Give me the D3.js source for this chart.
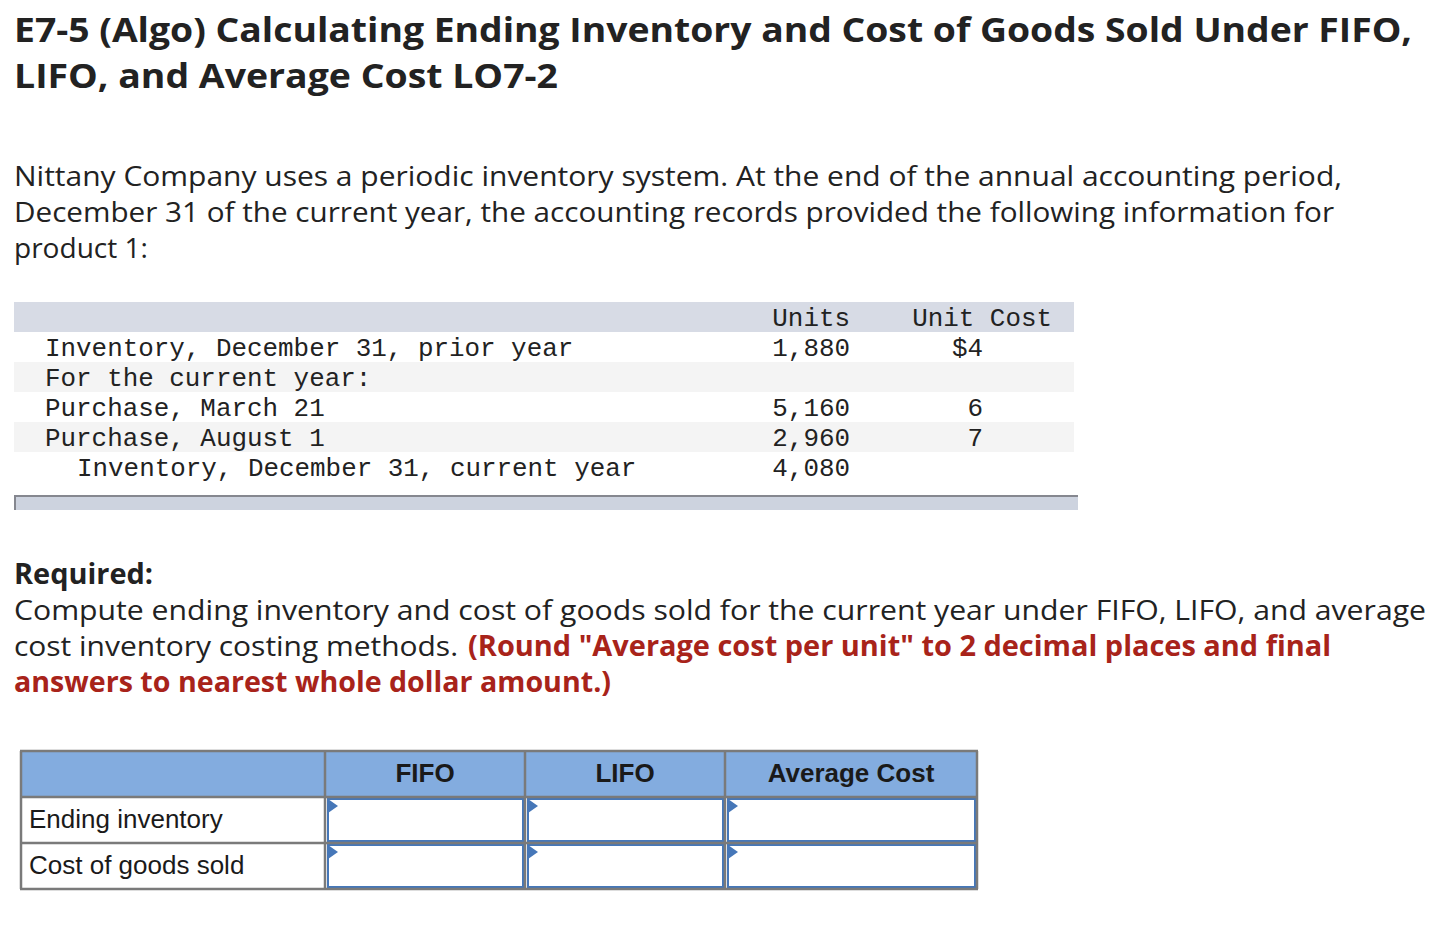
<!DOCTYPE html>
<html>
<head>
<meta charset="utf-8">
<script src="https://cdn.jsdelivr.net/npm/d3@7/dist/d3.min.js"></script>
<style>
  html, body { margin: 0; padding: 0; background: #fff; }
  svg { display: block; }
</style>
</head>
<body>
<div id="chart"></div>
<script>
// ---------- data ----------
const titleLines = [
  "E7-5 (Algo) Calculating Ending Inventory and Cost of Goods Sold Under FIFO,",
  "LIFO, and Average Cost LO7-2"
];
const introLines = [
  "Nittany Company uses a periodic inventory system. At the end of the annual accounting period,",
  "December 31 of the current year, the accounting records provided the following information for",
  "product 1:"
];
const tableHeaders = ["", "Units", "Unit Cost"];
const rowLabels = [
  "Inventory, December 31, prior year",
  "For the current year:",
  "Purchase, March 21",
  "Purchase, August 1",
  "Inventory, December 31, current year"
];
const rowIndent = [0, 0, 0, 0, 1];
const units = ["1,880", "", "5,160", "2,960", "4,080"];
const unitCosts = ["$4", "", "6", "7", ""];
const requiredTitle = "Required:";
const requiredLine1 = "Compute ending inventory and cost of goods sold for the current year under FIFO, LIFO, and average";
const requiredLine2a = "cost inventory costing methods.";
const requiredLine2b = "(Round \"Average cost per unit\" to 2 decimal places and final";
const requiredLine3 = "answers to nearest whole dollar amount.)";
const answerColumns = ["FIFO", "LIFO", "Average Cost"];
const answerRows = ["Ending inventory", "Cost of goods sold"];

// ---------- drawing ----------
const W = 1448, H = 938;
const svg = d3.select("#chart").append("svg").attr("width", W).attr("height", H);

const sans = "'Open Sans', Lato, 'Liberation Sans', sans-serif";
const mono = "'Liberation Mono', 'DejaVu Sans Mono', monospace";
const arial = "'Liberation Sans', Arial, sans-serif";
const textCol = "#222";

// Title
const titleWidths = [1398, 544];
svg.selectAll("text.title").data(titleLines).join("text")
  .attr("class", "title")
  .attr("x", 14)
  .attr("y", (d, i) => 42 + i * 46)
  .attr("font-family", sans)
  .attr("font-weight", 700)
  .attr("font-size", 34)
  .attr("fill", textCol)
  .attr("textLength", (d, i) => titleWidths[i])
  .attr("lengthAdjust", "spacingAndGlyphs")
  .text(d => d);

// Intro
const introWidths = [1328, 1320, 134];
svg.selectAll("text.intro").data(introLines).join("text")
  .attr("class", "intro")
  .attr("x", 14)
  .attr("y", (d, i) => 186 + i * 36)
  .attr("font-family", sans)
  .attr("font-size", 28)
  .attr("fill", textCol)
  .attr("textLength", (d, i) => introWidths[i])
  .attr("lengthAdjust", "spacingAndGlyphs")
  .text(d => d);

// Data table
const tX0 = 14, tX1 = 1074;
const headTop = 302, rowH = 30;
const rowY = d3.scaleBand().domain(d3.range(rowLabels.length))
  .range([headTop + rowH, headTop + rowH * (rowLabels.length + 1)]);

svg.append("rect").attr("x", tX0).attr("y", headTop).attr("width", tX1 - tX0).attr("height", rowH)
  .attr("fill", "#d7dbe5");
svg.selectAll("rect.row").data(rowLabels).join("rect")
  .attr("class", "row")
  .attr("x", tX0).attr("y", (d, i) => rowY(i))
  .attr("width", tX1 - tX0).attr("height", rowY.bandwidth())
  .attr("fill", (d, i) => i % 2 === 1 ? "#f4f4f4" : "#ffffff");

const monoSize = 25.9;
const colRight = { units: 850, cost: 983 };
// header
svg.append("text").attr("x", colRight.units).attr("y", headTop + 24)
  .attr("text-anchor", "end").attr("font-family", mono).attr("font-size", monoSize)
  .attr("fill", textCol).text(tableHeaders[1]);
svg.append("text").attr("x", 1052).attr("y", headTop + 24)
  .attr("text-anchor", "end").attr("font-family", mono).attr("font-size", monoSize)
  .attr("fill", textCol).text(tableHeaders[2]);

svg.selectAll("text.rl").data(rowLabels).join("text")
  .attr("class", "rl")
  .attr("x", (d, i) => 45 + rowIndent[i] * 32)
  .attr("y", (d, i) => rowY(i) + 24)
  .attr("font-family", mono).attr("font-size", monoSize).attr("fill", textCol)
  .attr("xml:space", "preserve")
  .text(d => d);
svg.selectAll("text.un").data(units).join("text")
  .attr("class", "un")
  .attr("x", colRight.units)
  .attr("y", (d, i) => rowY(i) + 24)
  .attr("text-anchor", "end")
  .attr("font-family", mono).attr("font-size", monoSize).attr("fill", textCol)
  .text(d => d);
svg.selectAll("text.uc").data(unitCosts).join("text")
  .attr("class", "uc")
  .attr("x", colRight.cost)
  .attr("y", (d, i) => rowY(i) + 24)
  .attr("text-anchor", "end")
  .attr("font-family", mono).attr("font-size", monoSize).attr("fill", textCol)
  .text(d => d);

// bottom band
svg.append("rect").attr("x", 14).attr("y", 496).attr("width", 1064).attr("height", 14).attr("fill", "#cdd3df");
svg.append("rect").attr("x", 14).attr("y", 495).attr("width", 1064).attr("height", 2).attr("fill", "#85878f");
svg.append("rect").attr("x", 14).attr("y", 495).attr("width", 2).attr("height", 15).attr("fill", "#85878f");

// Required
svg.append("text").attr("x", 14).attr("y", 584)
  .attr("font-family", sans).attr("font-weight", 700).attr("font-size", 28).attr("fill", textCol)
  .attr("textLength", 139).attr("lengthAdjust", "spacingAndGlyphs")
  .text(requiredTitle);
svg.append("text").attr("x", 14).attr("y", 620)
  .attr("font-family", sans).attr("font-size", 28).attr("fill", textCol)
  .attr("textLength", 1412).attr("lengthAdjust", "spacingAndGlyphs")
  .text(requiredLine1);
svg.append("text").attr("x", 14).attr("y", 656)
  .attr("font-family", sans).attr("font-size", 28).attr("fill", textCol)
  .attr("textLength", 444).attr("lengthAdjust", "spacingAndGlyphs")
  .text(requiredLine2a);
const red = "#a8231a";
svg.append("text").attr("x", 468).attr("y", 656)
  .attr("font-family", sans).attr("font-weight", 700).attr("font-size", 28).attr("fill", red)
  .attr("textLength", 863).attr("lengthAdjust", "spacingAndGlyphs")
  .text(requiredLine2b);
svg.append("text").attr("x", 14).attr("y", 692)
  .attr("font-family", sans).attr("font-weight", 700).attr("font-size", 28).attr("fill", red)
  .attr("textLength", 597).attr("lengthAdjust", "spacingAndGlyphs")
  .text(requiredLine3);

// Answer table
const colEdges = [21, 325, 525, 725, 977];
const aTop = 751, aHeadH = 46, aRowH = 46;
const aRowY = d3.scaleBand().domain(answerRows).range([aTop + aHeadH, aTop + aHeadH + aRowH * answerRows.length]);
const grey = "#7a7a7a";
const blue = "#4677b8";

// header background
svg.append("rect").attr("x", colEdges[0]).attr("y", aTop).attr("width", colEdges[4] - colEdges[0]).attr("height", aHeadH)
  .attr("fill", "#83acdf");
svg.selectAll("text.ah").data(answerColumns).join("text")
  .attr("class", "ah")
  .attr("x", (d, i) => (colEdges[i + 1] + colEdges[i + 2]) / 2)
  .attr("y", aTop + 31)
  .attr("text-anchor", "middle")
  .attr("font-family", arial).attr("font-weight", 700).attr("font-size", 26).attr("fill", "#1a1a1a")
  .text(d => d);

// row labels
svg.selectAll("text.ar").data(answerRows).join("text")
  .attr("class", "ar")
  .attr("x", 29)
  .attr("y", d => aRowY(d) + 31)
  .attr("font-family", arial).attr("font-size", 26).attr("fill", "#1a1a1a")
  .text(d => d);

// input cells
const cells = [];
answerRows.forEach(r => answerColumns.forEach((c, ci) => cells.push({ r, ci })));
const cg = svg.selectAll("g.cell").data(cells).join("g").attr("class", "cell");
cg.append("rect")
  .attr("x", d => colEdges[d.ci + 1] + 3)
  .attr("y", d => aRowY(d.r) + 2)
  .attr("width", d => colEdges[d.ci + 2] - colEdges[d.ci + 1] - 5)
  .attr("height", aRowH - 4)
  .attr("fill", "#fff").attr("stroke", blue).attr("stroke-width", 2);
cg.append("path")
  .attr("d", d => {
    const x = colEdges[d.ci + 1] + 3, y = aRowY(d.r) + 2;
    return `M${x},${y} L${x + 10},${y + 7} L${x},${y + 14} Z`;
  })
  .attr("fill", blue);

// grid lines
const gridV = colEdges;
svg.selectAll("line.gv").data(gridV).join("line")
  .attr("class", "gv")
  .attr("x1", d => d).attr("x2", d => d)
  .attr("y1", aTop).attr("y2", aTop + aHeadH + aRowH * answerRows.length)
  .attr("stroke", grey).attr("stroke-width", 2.5);
const gridH = [aTop, aTop + aHeadH, aTop + aHeadH + aRowH, aTop + aHeadH + 2 * aRowH];
svg.selectAll("line.gh").data(gridH).join("line")
  .attr("class", "gh")
  .attr("x1", colEdges[0] - 1).attr("x2", colEdges[4] + 1)
  .attr("y1", d => d).attr("y2", d => d)
  .attr("stroke", grey).attr("stroke-width", 2.5);
</script>
</body>
</html>
